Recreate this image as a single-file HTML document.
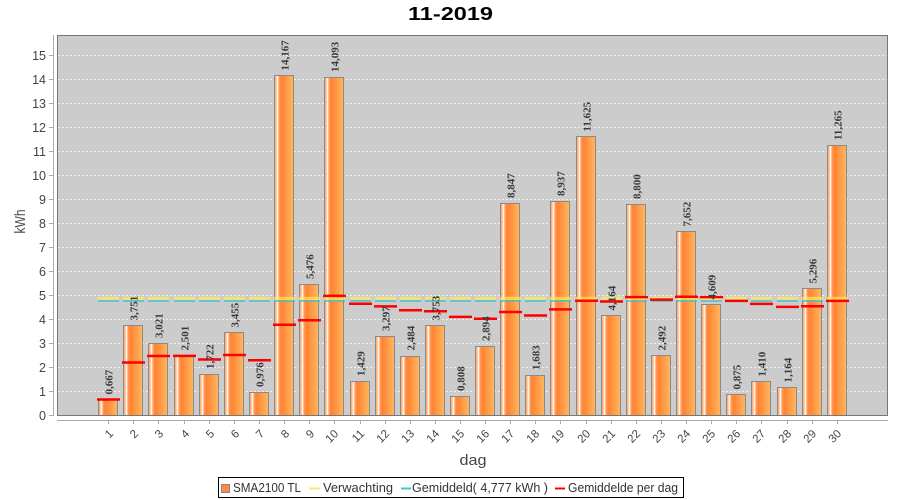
<!DOCTYPE html>
<html>
<head>
<meta charset="utf-8">
<style>
html,body{margin:0;padding:0;background:#fff;}
svg{display:block;}
text{font-family:"Liberation Sans",sans-serif;}
.bl{font-family:"Liberation Serif",serif;font-weight:bold;font-size:11px;fill:#3a3a3a;}
.xt{font-size:11.5px;fill:#444;}
.yt{font-size:12.5px;fill:#444;}
</style>
</head>
<body>
<svg width="900" height="500" viewBox="0 0 900 500" xmlns="http://www.w3.org/2000/svg">
<defs>
<linearGradient id="g" x1="0" y1="0" x2="1" y2="0">
<stop offset="0" stop-color="#ff9a55"/>
<stop offset="0.09" stop-color="#ffc090"/>
<stop offset="0.16" stop-color="#ffffff"/>
<stop offset="0.24" stop-color="#ff9c55"/>
<stop offset="0.36" stop-color="#ff8232"/>
<stop offset="1" stop-color="#ffb860"/>
</linearGradient>
</defs>
<rect width="900" height="500" fill="#fff"/>
<!-- title -->
<text x="408" y="20" font-size="18.5" font-weight="bold" fill="#000" textLength="85" lengthAdjust="spacingAndGlyphs">11-2019</text>
<!-- plot bg -->
<rect x="57.5" y="35.5" width="830" height="380" fill="#cccccc"/>
<!-- grid -->
<path d="M58 391.5H887M58 367.5H887M58 343.5H887M58 319.5H887M58 295.5H887M58 271.5H887M58 247.5H887M58 223.5H887M58 199.5H887M58 175.5H887M58 151.5H887M58 127.5H887M58 103.5H887M58 79.5H887M58 55.5H887" stroke="#eeeeee" stroke-width="1" stroke-dasharray="2,2" fill="none"/>
<!-- bars -->
<g fill="url(#g)" stroke="#8a8a8a" stroke-width="1">
<rect x="98.5" y="399.5" width="19" height="16"/>
<rect x="123.5" y="325.5" width="19" height="90"/>
<rect x="148.5" y="343.5" width="19" height="72"/>
<rect x="174.5" y="355.5" width="19" height="60"/>
<rect x="199.5" y="374.5" width="19" height="41"/>
<rect x="224.5" y="332.5" width="19" height="83"/>
<rect x="249.5" y="392.5" width="19" height="23"/>
<rect x="274.5" y="75.5" width="19" height="340"/>
<rect x="299.5" y="284.5" width="19" height="131"/>
<rect x="324.5" y="77.5" width="19" height="338"/>
<rect x="350.5" y="381.5" width="19" height="34"/>
<rect x="375.5" y="336.5" width="19" height="79"/>
<rect x="400.5" y="356.5" width="19" height="59"/>
<rect x="425.5" y="325.5" width="19" height="90"/>
<rect x="450.5" y="396.5" width="19" height="19"/>
<rect x="475.5" y="346.5" width="19" height="69"/>
<rect x="500.5" y="203.5" width="19" height="212"/>
<rect x="525.5" y="375.5" width="19" height="40"/>
<rect x="550.5" y="201.5" width="19" height="214"/>
<rect x="576.5" y="136.5" width="19" height="279"/>
<rect x="601.5" y="315.5" width="19" height="100"/>
<rect x="626.5" y="204.5" width="19" height="211"/>
<rect x="651.5" y="355.5" width="19" height="60"/>
<rect x="676.5" y="231.5" width="19" height="184"/>
<rect x="701.5" y="304.5" width="19" height="111"/>
<rect x="726.5" y="394.5" width="19" height="21"/>
<rect x="751.5" y="381.5" width="19" height="34"/>
<rect x="777.5" y="387.5" width="19" height="28"/>
<rect x="802.5" y="288.5" width="19" height="127"/>
<rect x="827.5" y="145.5" width="19" height="270"/>
</g>
<!-- yellow expectation -->
<path d="M98 298.4h21M123 298.4h21M148 298.4h21M174 298.4h21M199 298.4h21M224 298.4h21M249 298.4h21M274 298.4h21M299 298.4h21M324 298.4h21M350 298.4h21M375 298.4h21M400 298.4h21M425 298.4h21M450 298.4h21M475 298.4h21M500 298.4h21M525 298.4h21M550 298.4h21M576 298.4h21M601 298.4h21M626 298.4h21M651 298.4h21M676 298.4h21M701 298.4h21M726 298.4h21M751 298.4h21M777 298.4h21M802 298.4h21M827 298.4h21" stroke="rgba(255,240,90,0.65)" stroke-width="3.2" fill="none"/>
<!-- cyan average -->
<path d="M98 301h21M123 301h21M148 301h21M174 301h21M199 301h21M224 301h21M249 301h21M274 301h21M299 301h21M324 301h21M350 301h21M375 301h21M400 301h21M425 301h21M450 301h21M475 301h21M500 301h21M525 301h21M550 301h21M576 301h21M601 301h21M626 301h21M651 301h21M676 301h21M701 301h21M726 301h21M751 301h21M777 301h21M802 301h21M827 301h21" stroke="#46bfc9" stroke-width="1.5" fill="none"/>
<!-- red per-day average -->
<path d="M97 399.5h23M122 362.5h23M147 356h23M173 355.9h23M198 359.5h23M223 355h23M248 360.3h23M273 324.7h23M298 320.2h23M323 295.9h23M349 303.7h23M374 306.4h23M399 310.2h23M424 311.3h23M449 316.9h23M474 318.7h23M499 312h23M524 315.5h23M549 309.4h23M575 300.8h23M600 301.5h23M625 297.1h23M650 299.6h23M675 296.8h23M700 297.1h23M725 300.9h23M750 303.9h23M776 306.9h23M801 306.2h23M826 300.9h23" stroke="#ff0000" stroke-width="2.5" fill="none"/>
<!-- plot border -->
<rect x="57.5" y="35.5" width="830" height="380" fill="none" stroke="#777" stroke-width="1"/>
<!-- bar labels -->
<text class="bl" x="112.5" y="394.5" transform="rotate(-90 112.5 394.5)">0,667</text>
<text class="bl" x="137.5" y="320.5" transform="rotate(-90 137.5 320.5)">3,751</text>
<text class="bl" x="162.5" y="338" transform="rotate(-90 162.5 338)">3,021</text>
<text class="bl" x="188.5" y="350.5" transform="rotate(-90 188.5 350.5)">2,501</text>
<text class="bl" x="213.5" y="369" transform="rotate(-90 213.5 369)">1,722</text>
<text class="bl" x="238.5" y="327.5" transform="rotate(-90 238.5 327.5)">3,455</text>
<text class="bl" x="263.5" y="387" transform="rotate(-90 263.5 387)">0,976</text>
<text class="bl" x="288.5" y="70.5" transform="rotate(-90 288.5 70.5)">14,167</text>
<text class="bl" x="313.5" y="279" transform="rotate(-90 313.5 279)">5,476</text>
<text class="bl" x="338.5" y="72" transform="rotate(-90 338.5 72)">14,093</text>
<text class="bl" x="364.5" y="376" transform="rotate(-90 364.5 376)">1,429</text>
<text class="bl" x="389.5" y="331" transform="rotate(-90 389.5 331)">3,297</text>
<text class="bl" x="414.5" y="350.5" transform="rotate(-90 414.5 350.5)">2,484</text>
<text class="bl" x="439.5" y="320.5" transform="rotate(-90 439.5 320.5)">3,753</text>
<text class="bl" x="464.5" y="391" transform="rotate(-90 464.5 391)">0,808</text>
<text class="bl" x="489.5" y="341" transform="rotate(-90 489.5 341)">2,894</text>
<text class="bl" x="514.5" y="198" transform="rotate(-90 514.5 198)">8,847</text>
<text class="bl" x="539.5" y="370" transform="rotate(-90 539.5 370)">1,683</text>
<text class="bl" x="564.5" y="196" transform="rotate(-90 564.5 196)">8,937</text>
<text class="bl" x="590.5" y="131.5" transform="rotate(-90 590.5 131.5)">11,625</text>
<text class="bl" x="615.5" y="310.5" transform="rotate(-90 615.5 310.5)">4,164</text>
<text class="bl" x="640.5" y="199" transform="rotate(-90 640.5 199)">8,800</text>
<text class="bl" x="665.5" y="350.5" transform="rotate(-90 665.5 350.5)">2,492</text>
<text class="bl" x="690.5" y="226.5" transform="rotate(-90 690.5 226.5)">7,652</text>
<text class="bl" x="715.5" y="299.5" transform="rotate(-90 715.5 299.5)">4,609</text>
<text class="bl" x="740.5" y="389.5" transform="rotate(-90 740.5 389.5)">0,875</text>
<text class="bl" x="765.5" y="376.5" transform="rotate(-90 765.5 376.5)">1,410</text>
<text class="bl" x="791.5" y="382.5" transform="rotate(-90 791.5 382.5)">1,164</text>
<text class="bl" x="816.5" y="283.5" transform="rotate(-90 816.5 283.5)">5,296</text>
<text class="bl" x="841.5" y="140" transform="rotate(-90 841.5 140)">11,265</text>
<!-- y axis -->
<path d="M53.5 35V416" stroke="#aaaaaa" stroke-width="1"/>
<path d="M49 415.5h4M49 391.5h4M49 367.5h4M49 343.5h4M49 319.5h4M49 295.5h4M49 271.5h4M49 247.5h4M49 223.5h4M49 199.5h4M49 175.5h4M49 151.5h4M49 127.5h4M49 103.5h4M49 79.5h4M49 55.5h4" stroke="#aaaaaa" stroke-width="1"/>
<g class="yt" text-anchor="end">
<text x="46" y="420">0</text>
<text x="46" y="396">1</text>
<text x="46" y="372">2</text>
<text x="46" y="348">3</text>
<text x="46" y="324">4</text>
<text x="46" y="300">5</text>
<text x="46" y="276">6</text>
<text x="46" y="252">7</text>
<text x="46" y="228">8</text>
<text x="46" y="204">9</text>
<text x="46" y="180">10</text>
<text x="46" y="156">11</text>
<text x="46" y="132">12</text>
<text x="46" y="108">13</text>
<text x="46" y="84">14</text>
<text x="46" y="60">15</text>
</g>
<text x="25" y="221.5" transform="rotate(-90 25 221.5)" text-anchor="middle" font-size="15" fill="#444" textLength="24" lengthAdjust="spacingAndGlyphs">kWh</text>
<!-- x axis -->
<path d="M57 420.5H888" stroke="#aaaaaa" stroke-width="1"/>
<path d="M108.5 420v4M133.5 420v4M158.5 420v4M184.5 420v4M209.5 420v4M234.5 420v4M259.5 420v4M284.5 420v4M309.5 420v4M334.5 420v4M360.5 420v4M385.5 420v4M410.5 420v4M435.5 420v4M460.5 420v4M485.5 420v4M510.5 420v4M535.5 420v4M560.5 420v4M586.5 420v4M611.5 420v4M636.5 420v4M661.5 420v4M686.5 420v4M711.5 420v4M736.5 420v4M761.5 420v4M787.5 420v4M812.5 420v4M837.5 420v4" stroke="#aaaaaa" stroke-width="1"/>
<g class="xt" text-anchor="end">
<text x="114" y="434.4" transform="rotate(-45 114 434.4)">1</text>
<text x="139" y="434.4" transform="rotate(-45 139 434.4)">2</text>
<text x="164" y="434.4" transform="rotate(-45 164 434.4)">3</text>
<text x="190" y="434.4" transform="rotate(-45 190 434.4)">4</text>
<text x="215" y="434.4" transform="rotate(-45 215 434.4)">5</text>
<text x="240" y="434.4" transform="rotate(-45 240 434.4)">6</text>
<text x="265" y="434.4" transform="rotate(-45 265 434.4)">7</text>
<text x="290" y="434.4" transform="rotate(-45 290 434.4)">8</text>
<text x="315" y="434.4" transform="rotate(-45 315 434.4)">9</text>
<text x="339" y="434.4" transform="rotate(-45 339 434.4)">10</text>
<text x="365" y="434.4" transform="rotate(-45 365 434.4)">11</text>
<text x="390" y="434.4" transform="rotate(-45 390 434.4)">12</text>
<text x="415" y="434.4" transform="rotate(-45 415 434.4)">13</text>
<text x="440" y="434.4" transform="rotate(-45 440 434.4)">14</text>
<text x="465" y="434.4" transform="rotate(-45 465 434.4)">15</text>
<text x="490" y="434.4" transform="rotate(-45 490 434.4)">16</text>
<text x="515" y="434.4" transform="rotate(-45 515 434.4)">17</text>
<text x="540" y="434.4" transform="rotate(-45 540 434.4)">18</text>
<text x="565" y="434.4" transform="rotate(-45 565 434.4)">19</text>
<text x="591" y="434.4" transform="rotate(-45 591 434.4)">20</text>
<text x="616" y="434.4" transform="rotate(-45 616 434.4)">21</text>
<text x="641" y="434.4" transform="rotate(-45 641 434.4)">22</text>
<text x="666" y="434.4" transform="rotate(-45 666 434.4)">23</text>
<text x="691" y="434.4" transform="rotate(-45 691 434.4)">24</text>
<text x="716" y="434.4" transform="rotate(-45 716 434.4)">25</text>
<text x="741" y="434.4" transform="rotate(-45 741 434.4)">26</text>
<text x="766" y="434.4" transform="rotate(-45 766 434.4)">27</text>
<text x="792" y="434.4" transform="rotate(-45 792 434.4)">28</text>
<text x="817" y="434.4" transform="rotate(-45 817 434.4)">29</text>
<text x="842" y="434.4" transform="rotate(-45 842 434.4)">30</text>
</g>
<text x="473" y="465" text-anchor="middle" font-size="15" fill="#444" textLength="27" lengthAdjust="spacingAndGlyphs">dag</text>
<!-- legend -->
<rect x="218.5" y="477.5" width="465" height="20" fill="#fff" stroke="#000" stroke-width="1"/>
<rect x="221.5" y="484.5" width="8" height="8" fill="#ff8a45" stroke="#888" stroke-width="1"/>
<text x="233" y="492" font-size="12.5" fill="#333" textLength="68" lengthAdjust="spacingAndGlyphs">SMA2100 TL</text>
<path d="M309 488.5h11" stroke="#f2ee70" stroke-width="2"/>
<text x="323" y="492" font-size="12.5" fill="#333" textLength="70" lengthAdjust="spacingAndGlyphs">Verwachting</text>
<path d="M401 488.5h10" stroke="#40c8d0" stroke-width="2"/>
<text x="412" y="492" font-size="12.5" fill="#333" textLength="136" lengthAdjust="spacingAndGlyphs">Gemiddeld( 4,777 kWh )</text>
<path d="M555 488.5h10" stroke="#ff0000" stroke-width="2"/>
<text x="568" y="492" font-size="12.5" fill="#333" textLength="110" lengthAdjust="spacingAndGlyphs">Gemiddelde per dag</text>
</svg>
</body>
</html>
